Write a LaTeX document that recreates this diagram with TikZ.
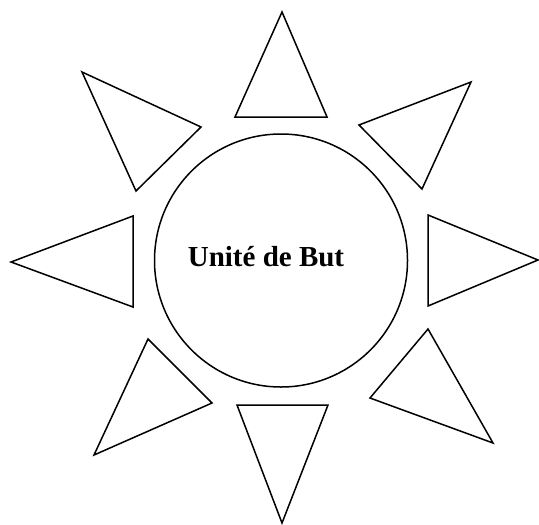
\documentclass[tikz,border=0pt]{standalone}
\usepackage{fontspec}
\setmainfont{Liberation Serif}

\begin{document}
\begin{tikzpicture}[x=0.5pt, y=-0.5pt, rayon/.style={draw, line width=0.75pt, line join=miter}, every node/.style={font=\bfseries\fontsize{14.5}{17}\selectfont}]
  \useasboundingbox (0,0) rectangle (539,524);
  \node[draw, circle, line width=0.75pt, minimum size=126.5pt, inner sep=0pt] (but) at (281,260.5) {};
  \node[anchor=base, inner sep=0pt] (butlabel) at (266,266) {Unité de But};
  % rays
  \draw[rayon] (282,12) -- (327,117) -- (235,117) -- cycle;
  \draw[rayon] (471,82) -- (422,189) -- (359,125) -- cycle;
  \draw[rayon] (538,260) -- (428,306) -- (428,215) -- cycle;
  \draw[rayon] (493,443) -- (370,398) -- (428,329) -- cycle;
  \draw[rayon] (282,523) -- (237,405) -- (328,405) -- cycle;
  \draw[rayon] (94,455) -- (148,339) -- (212,403) -- cycle;
  \draw[rayon] (11,262) -- (133,216) -- (133,307) -- cycle;
  \draw[rayon] (82,72) -- (201,127) -- (136,191) -- cycle;
\end{tikzpicture}
\end{document}
